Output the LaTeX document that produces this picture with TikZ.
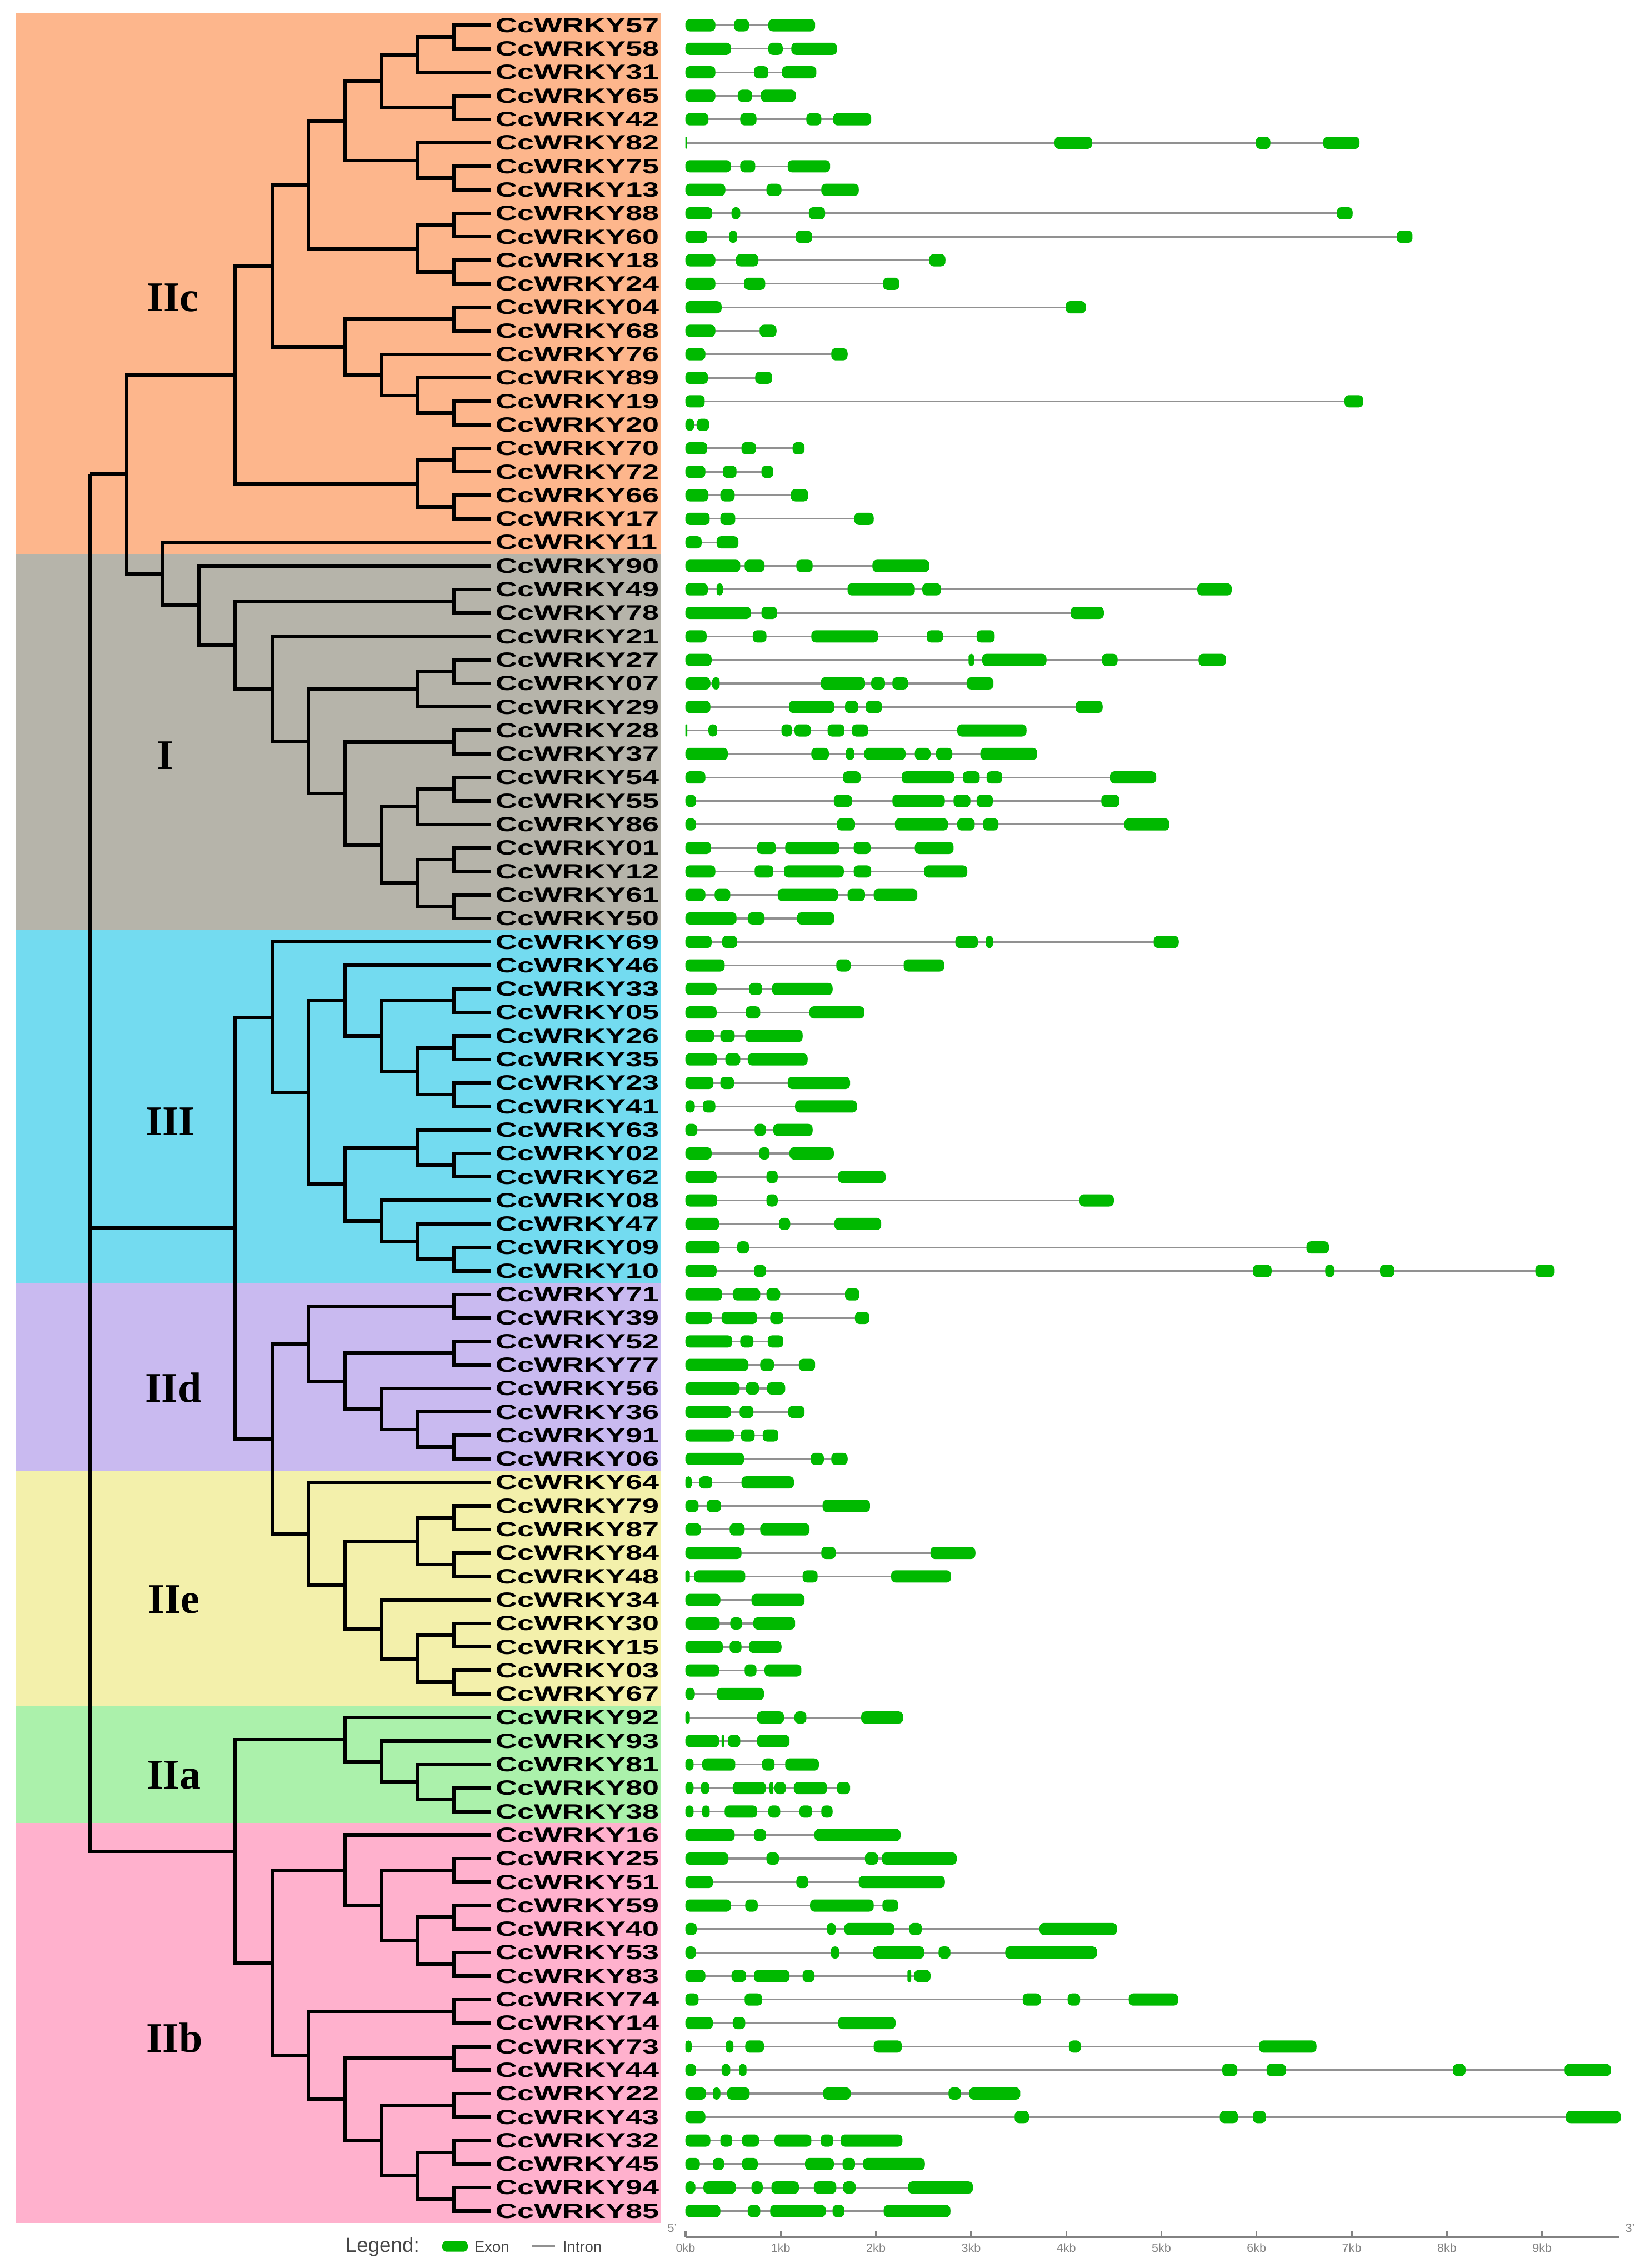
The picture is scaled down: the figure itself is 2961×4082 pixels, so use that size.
\documentclass[tikz,border=0pt]{standalone}
\usepackage{fontspec}
\setmainfont{Liberation Sans}
\newfontfamily\serifbold{Liberation Serif}
\usepackage{graphicx}
\definecolor{bIIc}{RGB}{253,182,140}
\definecolor{bI}{RGB}{182,180,170}
\definecolor{bIII}{RGB}{115,219,240}
\definecolor{bIId}{RGB}{201,186,240}
\definecolor{bIIe}{RGB}{243,240,171}
\definecolor{bIIa}{RGB}{171,241,171}
\definecolor{bIIb}{RGB}{255,177,205}
\definecolor{exongreen}{RGB}{0,185,0}
\definecolor{introngray}{RGB}{145,145,145}
\definecolor{leggray}{RGB}{70,70,70}
\definecolor{axgray}{RGB}{130,130,130}
\newcommand\ry[1]{(45.5+42.3*(#1))}
\newcommand\gl[1]{\scalebox{1.45}[1]{CcWRKY#1}}
\tikzset{
  br/.style={line width=1.6pt, black},
  lbl/.style={anchor=west, inner sep=0pt, font=\bfseries\fontsize{9.3}{10}\selectfont},
  clade/.style={inner sep=0pt, font=\serifbold\bfseries\fontsize{19}{20}\selectfont},
  intron/.style={draw=introngray, line width=0.8pt},
  exon/.style={fill=exongreen},
  axisline/.style={draw=axgray, line width=0.8pt},
  ticklbl/.style={inner sep=0pt, text=axgray, font=\fontsize{5.4}{6}\selectfont},
}
\newcommand\gene[2]{%
  \foreach \ea/\eb in {#2}{\xdef\gend{\eb}}%
  \draw[intron] (30,{\ry{#1}}) -- (\gend,{\ry{#1}});%
  \foreach \ea/\eb in {#2}{%
    \pgfmathsetmacro\rr{min(2,(\eb-\ea)*0.1403)}%
    \fill[exon,rounded corners=\rr pt] (\ea,{\ry{#1}-11}) rectangle (\eb,{\ry{#1}+11});}%
}
\begin{document}
\begin{tikzpicture}[x=0.25pt,y=-0.25pt]
\useasboundingbox (0,0) rectangle (2961,4082);
% clade bands
\fill[bIIc] (29,{\ry{-0.5}}) rectangle (1190,{\ry{22.5}});
\fill[bI]   (29,{\ry{22.5}}) rectangle (1190,{\ry{38.5}});
\fill[bIII] (29,{\ry{38.5}}) rectangle (1190,{\ry{53.5}});
\fill[bIId] (29,{\ry{53.5}}) rectangle (1190,{\ry{61.5}});
\fill[bIIe] (29,{\ry{61.5}}) rectangle (1190,{\ry{71.5}});
\fill[bIIa] (29,{\ry{71.5}}) rectangle (1190,{\ry{76.5}});
\fill[bIIb] (29,{\ry{76.5}}) rectangle (1190,{\ry{93.5}});
% clade labels
\node[clade] (cIIc) at (311,536) {IIc};
\node[clade] (cI) at (297,1360) {I};
\node[clade] (cIII) at (307,2019) {III};
\node[clade] (cIId) at (312,2497) {IId};
\node[clade] (cIIe) at (313,2879) {IIe};
\node[clade] (cIIa) at (313,3195) {IIa};
\node[clade] (cIIb) at (314,3667) {IIb};
% tips and labels
\foreach \i/\g in {0/57,1/58,2/31,3/65,4/42,5/82,6/75,7/13,8/88,9/60,10/18,11/24,12/04,13/68,14/76,15/89,16/19,17/20,18/70,19/72,20/66,21/17,22/11,23/90,24/49,25/78,26/21,27/27,28/07,29/29,30/28,31/37,32/54,33/55,34/86,35/01,36/12,37/61,38/50,39/69,40/46,41/33,42/05,43/26,44/35,45/23,46/41,47/63,48/02,49/62,50/08,51/47,52/09,53/10,54/71,55/39,56/52,57/77,58/56,59/36,60/91,61/06,62/64,63/79,64/87,65/84,66/48,67/34,68/30,69/15,70/03,71/67,72/92,73/93,74/81,75/80,76/38,77/16,78/25,79/51,80/59,81/40,82/53,83/83,84/74,85/14,86/73,87/44,88/22,89/43,90/32,91/45,92/94,93/85}{
  \coordinate (t\g) at (884,{\ry{\i}});
  \node[lbl] (g\g) at (892,{\ry{\i}}) {\gl{\g}};
}
% internal nodes
\foreach \n/\x/\r in {a1/817/0.5, a2/752/1.25, a3/817/3.5, a4/687/2.375, a5/817/6.5, a6/752/5.75, a7/621/4.0625, a8/817/8.5, a9/817/10.5, a10/752/9.5, a11/555/6.78125, a12/817/12.5, a13/817/16.5, a14/752/15.75, a15/687/14.875, a16/621/13.6875, a17/490/10.234375, a18/817/18.5, a19/817/20.5, a20/752/19.5, a21/423/14.8671875,
 b1/817/24.5, b2/817/27.5, b3/752/28.25, b4/817/30.5, b5/817/32.5, b6/752/33.25, b7/817/35.5, b8/817/37.5, b9/752/36.5, b10/687/34.875, b11/621/32.6875, b12/555/30.46875, b13/490/28.234375, b14/423/26.3671875, b15/358/24.68359, b16/293/23.3418, c0/228/19.1045,
 d1/817/41.5, d2/817/43.5, d3/817/45.5, d4/752/44.5, d5/687/43, d6/621/41.5, d7/817/48.5, d8/752/47.75, d9/817/52.5, d10/752/51.75, d11/687/50.875, d12/621/49.3125, d13/555/45.40625, d14/490/42.203125,
 e1/817/54.5, e2/817/56.5, e3/817/60.5, e4/752/59.75, e5/687/58.875, e6/621/57.6875, e7/555/56.09375,
 f1/817/63.5, f2/817/65.5, f3/752/64.5, f4/817/68.5, f5/817/70.5, f6/752/69.5, f7/687/68.25, f8/621/66.375, f9/555/64.1875, f10/490/60.140625, c1/423/51.171875,
 g1/817/75.5, g2/752/74.75, g3/687/73.875, g4/621/72.9375,
 h1/817/78.5, h2/817/80.5, h3/817/82.5, h4/752/81.5, h5/687/80, h6/621/78.5, h7/817/84.5, h8/817/86.5, h9/817/88.5, h10/817/90.5, h11/817/92.5, h12/752/91.5, h13/687/90, h14/621/88.25, h15/555/86.375, h16/490/82.4375, c2/423/77.6875,
 root/162/19.1045}{
  \coordinate (\n) at (\x,{\ry{\r}});
}
% branches
\foreach \p/\c in {a1/t57, a1/t58, a2/a1, a2/t31, a3/t65, a3/t42, a4/a2, a4/a3, a5/t75, a5/t13, a6/t82, a6/a5, a7/a4, a7/a6, a8/t88, a8/t60, a9/t18, a9/t24, a10/a8, a10/a9, a11/a7, a11/a10, a12/t04, a12/t68, a13/t19, a13/t20, a14/t89, a14/a13, a15/t76, a15/a14, a16/a12, a16/a15, a17/a11, a17/a16, a18/t70, a18/t72, a19/t66, a19/t17, a20/a18, a20/a19, a21/a17, a21/a20,
 b1/t49, b1/t78, b2/t27, b2/t07, b3/b2, b3/t29, b4/t28, b4/t37, b5/t54, b5/t55, b6/b5, b6/t86, b7/t01, b7/t12, b8/t61, b8/t50, b9/b7, b9/b8, b10/b6, b10/b9, b11/b4, b11/b10, b12/b3, b12/b11, b13/t21, b13/b12, b14/b1, b14/b13, b15/t90, b15/b14, b16/t11, b16/b15, c0/a21, c0/b16,
 d1/t33, d1/t05, d2/t26, d2/t35, d3/t23, d3/t41, d4/d2, d4/d3, d5/d1, d5/d4, d6/t46, d6/d5, d7/t02, d7/t62, d8/t63, d8/d7, d9/t09, d9/t10, d10/t47, d10/d9, d11/t08, d11/d10, d12/d8, d12/d11, d13/d6, d13/d12, d14/t69, d14/d13,
 e1/t71, e1/t39, e2/t52, e2/t77, e3/t91, e3/t06, e4/t36, e4/e3, e5/t56, e5/e4, e6/e2, e6/e5, e7/e1, e7/e6,
 f1/t79, f1/t87, f2/t84, f2/t48, f3/f1, f3/f2, f4/t30, f4/t15, f5/t03, f5/t67, f6/f4, f6/f5, f7/t34, f7/f6, f8/f3, f8/f7, f9/t64, f9/f8, f10/e7, f10/f9, c1/d14, c1/f10,
 g1/t80, g1/t38, g2/t81, g2/g1, g3/t93, g3/g2, g4/t92, g4/g3,
 h1/t25, h1/t51, h2/t59, h2/t40, h3/t53, h3/t83, h4/h2, h4/h3, h5/h1, h5/h4, h6/t16, h6/h5, h7/t74, h7/t14, h8/t73, h8/t44, h9/t22, h9/t43, h10/t32, h10/t45, h11/t94, h11/t85, h12/h10, h12/h11, h13/h9, h13/h12, h14/h8, h14/h13, h15/h7, h15/h14, h16/h6, h16/h15, c2/g4, c2/h16,
 root/c0, root/c1, root/c2}{
  \draw[br] (\p) |- (\c);
}
% gene structures
\begin{scope}[shift={(1200,0)}, xscale=1.1224]
\gene{0}{30/78,108/132,163/238}
\gene{1}{30/103,163/186,200/273}
\gene{2}{30/78,140/163,185/240}
\gene{3}{30/78,114/137,151/207}
\gene{4}{30/67,118/144,224/248,267/328}
\gene{5}{30/32,622/682,945/968,1053/1111}
\gene{6}{30/103,118/142,194/262}
\gene{7}{30/94,160/184,248/308}
\gene{8}{30/73,104/118,228/254,1075/1100}
\gene{9}{30/65,100/113,207/233,1171/1196}
\gene{10}{30/78,111/147,421/447}
\gene{11}{30/78,124/158,347/373}
\gene{12}{30/88,640/672}
\gene{13}{30/78,149/176}
\gene{14}{30/62,264/290}
\gene{15}{30/66,142/169}
\gene{16}{30/61,1087/1117}
\gene{17}{30/44,48/68}
\gene{18}{30/65,120/143,202/221}
\gene{19}{30/62,90/112,152/171}
\gene{20}{30/67,86/109,199/227}
\gene{21}{30/69,86/110,301/332}
\gene{22}{30/56,80/115}
\gene{23}{30/118,125/157,208/234,330/421}
\gene{24}{30/66,80/90,290/398,410/440,851/906}
\gene{25}{30/135,152/177,648/701}
\gene{26}{30/64,138/160,232/339,417/443,497/526}
\gene{27}{30/72,484/493,506/609,698/723,853/897}
\gene{28}{30/70,73/85,247/318,328/350,362/387,481/524}
\gene{29}{30/70,196/269,286/307,319/345,656/699}
\gene{30}{30/33,67/81,184/201,205/231,258/285,297/323,466/577}
\gene{31}{30/98,232/260,287/301,317/383,398/423,432/458,503/594}
\gene{32}{30/62,283/311,377/461,475/502,513/538,711/785}
\gene{33}{30/47,268/297,362/446,460/487,497/523,697/726}
\gene{34}{30/47,273/302,366/451,466/494,507/532,734/806}
\gene{35}{30/71,145/175,190/277,300/327,398/460}
\gene{36}{30/78,141/171,188/284,300/328,413/482}
\gene{37}{30/62,77/102,178/275,290/318,332/402}
\gene{38}{30/112,130/157,209/269}
\gene{39}{30/72,89/113,463/499,512/523,781/821}
\gene{40}{30/93,272/295,380/445}
\gene{41}{30/80,132/153,169/266}
\gene{42}{30/80,127/150,229/317}
\gene{43}{30/76,86/109,126/218}
\gene{44}{30/81,94/118,130/226}
\gene{45}{30/75,86/108,194/294}
\gene{46}{30/45,58/78,206/305}
\gene{47}{30/49,141/159,171/234}
\gene{48}{30/72,148/165,197/268}
\gene{49}{30/80,160/178,275/351}
\gene{50}{30/81,160/178,662/717}
\gene{51}{30/84,180/198,269/344}
\gene{52}{30/85,113/132,1026/1062}
\gene{53}{30/80,140/159,940/970,1056/1071,1144/1167,1393/1424}
\gene{54}{30/89,106/150,160/182,286/309}
\gene{55}{30/73,88/145,166/187,302/325}
\gene{56}{30/105,118/139,162/187}
\gene{57}{30/131,150/172,212/238}
\gene{58}{30/117,127/148,161/190}
\gene{59}{30/103,117/139,195/221}
\gene{60}{30/108,119/141,154/179}
\gene{61}{30/124,231/252,264/290}
\gene{62}{30/40,52/73,120/204}
\gene{63}{30/51,64/87,250/326}
\gene{64}{30/55,101/125,150/229}
\gene{65}{30/120,248/271,423/495}
\gene{66}{30/37,44/126,218/242,360/456}
\gene{67}{30/86,136/221}
\gene{68}{30/85,102/121,139/206}
\gene{69}{30/90,101/120,132/184}
\gene{70}{30/84,125/144,157/216}
\gene{71}{30/45,80/156}
\gene{72}{30/37,145/188,205/224,312/379}
\gene{73}{30/84,88/92,98/118,145/197}
\gene{74}{30/43,57/110,153/173,190/244}
\gene{75}{30/43,55/68,106/159,165/171,173/191,204/257,273/294}
\gene{76}{30/43,57/69,93/145,163/182,213/233,248/266}
\gene{77}{30/109,140/159,237/375}
\gene{78}{30/99,160/180,318/339,345/465}
\gene{79}{30/74,208/227,308/446}
\gene{80}{30/103,126/146,230/332,346/371}
\gene{81}{30/48,257/271,285/365,389/409,598/722}
\gene{82}{30/47,263/277,331/413,436/455,543/690}
\gene{83}{30/62,104/127,140/197,218/237,386/392,397/423}
\gene{84}{30/51,125/153,571/600,643/663,741/820}
\gene{85}{30/74,106/126,275/367}
\gene{86}{30/40,95/107,126/156,332/377,645/664,950/1042}
\gene{87}{30/47,88/102,116/128,891/915,962/993,1261/1281,1440/1514}
\gene{88}{30/63,74/86,97/133,251/295,452/472,485/567}
\gene{89}{30/62,558/581,887/916,940/961,1442/1530}
\gene{90}{30/70,86/105,121/148,173/232,247/267,279/378}
\gene{91}{30/53,74/92,121/146,222/268,282/302,315/414}
\gene{92}{30/46,59/111,136/154,168/212,236/272,283/303,387/491}
\gene{93}{30/86,130/150,166/255,266/285,348/455}
\end{scope}
% legend
\node[anchor=west, inner sep=0pt, text=leggray, font=\fontsize{9.2}{10}\selectfont] (legtitle) at (621,4044) {Legend:};
\node[exon, rounded corners=2pt, minimum width=11.5pt, minimum height=4.8pt, inner sep=0pt] (legexon) at (819,4043) {};
\node[anchor=west, inner sep=0pt, text=leggray, font=\fontsize{6.9}{8}\selectfont] (legexontxt) at (853,4044) {Exon};
\coordinate (li0) at (957,4043);
\coordinate (li1) at (999,4043);
\draw[intron, line width=1pt] (li0) -- (li1);
\node[anchor=west, inner sep=0pt, text=leggray, font=\fontsize{6.9}{8}\selectfont] (legintrontxt) at (1012,4044) {Intron};
% scale axis
\coordinate (ax0) at (1234,4026);
\coordinate (ax1) at (2915,4026);
\draw[axisline] (ax0) -- (ax1);
\foreach \k in {0,...,9}{
  \draw[axisline] ({1234+171.3*\k},4015) -- ({1234+171.3*\k},4026);
  \node[ticklbl] at ({1234+171.3*\k},4046) {\k kb};
}
\node[ticklbl] (five) at (1210,4010) {5'};
\node[ticklbl] (three) at (2934,4010) {3'};
\end{tikzpicture}
\end{document}
